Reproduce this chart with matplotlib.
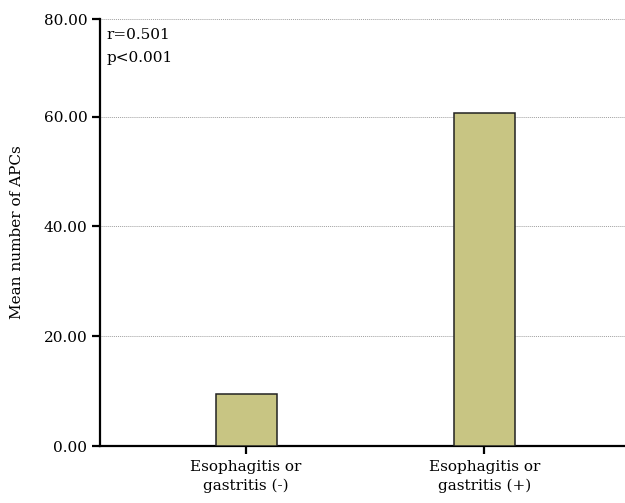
import numpy as np
import matplotlib.pyplot as plt

plt.rcParams['font.family'] = ['DejaVu Serif']

# data
groups = ['Esophagitis or\ngastritis (-)', 'Esophagitis or\ngastritis (+)']
mean_apcs = [9.4, 60.8]
yticks = [0, 20, 40, 60, 80]
stats_txt = 'r=0.501\np<0.001'

# the source plot squeezes the 60-80 band a little; reproduce that
squeeze = 97.7 / 110.0
def fwd(y):
    y = np.asarray(y, dtype=float)
    return np.where(y <= 60, y, 60 + (y - 60) * squeeze)
def inv(y):
    y = np.asarray(y, dtype=float)
    return np.where(y <= 60, y, 60 + (y - 60) / squeeze)

fig = plt.figure(figsize=(6.25, 5.03), dpi=100)
ax = fig.add_axes([0.16, 0.1133, 0.84, 0.8489])
ax.set_yscale('function', functions=(fwd, inv))

x = np.arange(len(groups))
ax.bar(x, mean_apcs, width=0.256, color='#c8c583', edgecolor='#222222',
       linewidth=1.1, zorder=3)

ax.set_xlim(-0.613, 1.59)
ax.set_ylim(0, 80)
ax.set_yticks(yticks)
ax.set_yticklabels(['%.2f' % v for v in yticks])
ax.minorticks_off()
ax.set_xticks(x)
ax.set_xticklabels(groups, linespacing=1.45)

for v in yticks[1:]:
    ax.axhline(v, color='#a0a0a0', linestyle=(0, (1, 1)), linewidth=0.7, zorder=1)

ax.spines['top'].set_visible(False)
ax.spines['right'].set_visible(False)
ax.spines['left'].set_linewidth(1.6)
ax.spines['bottom'].set_linewidth(1.6)
ax.tick_params(axis='both', direction='out', length=6, width=1.6,
               labelsize=11, pad=3, color='black')
ax.tick_params(axis='x', pad=4)

ax.set_ylabel('Mean number of APCs', fontsize=11, labelpad=14)
ax.text(0.012, 0.978, stats_txt, transform=ax.transAxes, fontsize=11,
        va='top', ha='left', linespacing=1.75)

fig.savefig('out.png', dpi=100)
